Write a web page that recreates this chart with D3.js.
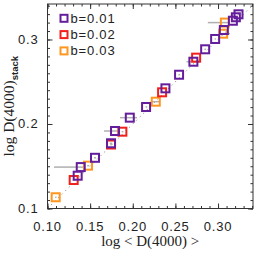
<!DOCTYPE html>
<html><head><meta charset="utf-8">
<script src="https://cdn.jsdelivr.net/npm/d3@7"></script>
<style>body{margin:0;background:#fff}svg{display:block}</style>
</head><body>
<svg id="c" width="258" height="258"></svg>
<script>
// ---- data ----
const seriesNames = ["b=0.01", "b=0.02", "b=0.03"];
const seriesColors = ["#641e9b", "#f0201c", "#ff9620"];
const purpleX = [0.1354,0.1390,0.1557,0.1745,0.1792,0.1965,0.2156,0.2383,0.2543,0.2711,0.2849,0.2966,0.3068,0.3174,0.3209,0.3240];
const purpleY = [0.1388,0.1490,0.1600,0.1772,0.1917,0.2075,0.2201,0.2422,0.2583,0.2737,0.2884,0.3006,0.3112,0.3222,0.3263,0.3298];
const purpleXlo = [0.1340,0.1076,0.1545,0.1730,0.1663,0.1850,0.2150,0.2375,0.2535,0.2630,0.2840,0.2960,0.3060,0.3165,0.3200,0.3230];
const purpleXhi = [0.1370,0.1420,0.1570,0.1760,0.1820,0.2050,0.2170,0.2395,0.2555,0.2790,0.2860,0.2975,0.3080,0.3185,0.3220,0.3250];
const redX = [0.1307,0.1745,0.1878,0.2344,0.2743];
const redY = [0.1337,0.1757,0.1909,0.2375,0.2785];
const redXlo = [0.1295,0.1735,0.1870,0.2335,0.2735];
const redXhi = [0.1320,0.1755,0.1890,0.2355,0.2755];
const orangeX = [0.1096,0.1475,0.2270,0.3060,0.3080];
const orangeY = [0.1133,0.1507,0.2264,0.3069,0.3200];
const orangeXlo = [0.1090,0.1465,0.2210,0.3000,0.2880];
const orangeXhi = [0.1105,0.1490,0.2320,0.3140,0.3120];
const xTicks = [0.10,0.15,0.20,0.25,0.30];
const yTicks = [0.1,0.2,0.3];
const xTickLabels = ["0.10","0.15","0.20","0.25","0.30"];
const yTickLabels = ["0.1","0.2","0.3"];
const xDomain = [0.10, 0.341];
const yDomain = [0.10, 0.342];

// ---- layout ----
const L = 47.5, R = 253, T = 4, B = 208.5;
const svg = d3.select("#c");
const x = d3.scaleLinear().domain(xDomain).range([L, R]);
const y = d3.scaleLinear().domain(yDomain).range([B, T]);
const minorX = d3.range(0.10, 0.3405, 0.01).map(v => +v.toFixed(2));
const minorY = d3.range(0.10, 0.3415, 0.01).map(v => +v.toFixed(2));

// 1:1 dotted line
svg.append("line")
  .attr("x1", x(0.10)).attr("y1", y(0.10))
  .attr("x2", x(0.34)).attr("y2", y(0.34))
  .attr("stroke", "#777").attr("stroke-width", 1).attr("stroke-dasharray", "1,4");

const tickColor = "#333";
function addTicks(axisGen, transform, vals, size) {
  svg.append("g").attr("transform", transform)
    .call(axisGen.tickValues(vals).tickSize(size).tickFormat(""))
    .call(g => { g.select(".domain").remove(); g.selectAll("line").attr("stroke", tickColor); });
}
// minor + major ticks on all sides (inward)
[[minorX, 2.5], [xTicks, 5]].forEach(([v, s]) => {
  addTicks(d3.axisTop(x), `translate(0,${B})`, v, s);
  addTicks(d3.axisBottom(x), `translate(0,${T})`, v, s);
});
[[minorY, 2.5], [yTicks, 5]].forEach(([v, s]) => {
  addTicks(d3.axisLeft(y), `translate(${R},0)`, v, s);
  addTicks(d3.axisRight(y), `translate(${L},0)`, v, s);
});

// frame
svg.append("rect").attr("x", L).attr("y", T).attr("width", R - L).attr("height", B - T)
  .attr("fill", "none").attr("stroke", tickColor).attr("stroke-width", 1);

// tick labels
const sans = "'Liberation Sans', Arial, sans-serif";
const serif = "'Liberation Serif', 'Times New Roman', serif";
svg.append("g").selectAll("text").data(xTicks).join("text")
  .attr("x", d => x(d)).attr("y", 230.5).attr("text-anchor", "middle")
  .attr("font-family", sans).attr("font-size", 13).attr("letter-spacing", 0.8).attr("fill", "#222")
  .text((d, i) => xTickLabels[i]);
svg.append("g").selectAll("text").data(yTicks).join("text")
  .attr("x", 38.5).attr("y", d => y(d) + 4.5).attr("text-anchor", "end")
  .attr("font-family", sans).attr("font-size", 13).attr("letter-spacing", 0.8).attr("fill", "#222")
  .text((d, i) => yTickLabels[i]);

// axis titles
svg.append("text").attr("x", (L + R) / 2).attr("y", 246).attr("text-anchor", "middle")
  .attr("font-family", serif).attr("font-size", 15).attr("fill", "#222")
  .text("log < D(4000) >");
const yt = svg.append("text").attr("transform", `translate(14,${(T + B) / 2}) rotate(-90)`)
  .attr("text-anchor", "middle").attr("font-family", serif).attr("font-size", 15.5).attr("fill", "#222");
yt.append("tspan").text("log D(4000)");
yt.append("tspan").attr("dy", 4).attr("font-size", 9.5).attr("font-family", sans).attr("font-weight", "bold").text("stack");

// data series
const series = [
  {x: orangeX, y: orangeY, lo: orangeXlo, hi: orangeXhi, c: seriesColors[2]},
  {x: redX, y: redY, lo: redXlo, hi: redXhi, c: seriesColors[1]},
  {x: purpleX, y: purpleY, lo: purpleXlo, hi: purpleXhi, c: seriesColors[0]}
];
series.forEach(s => {
  const pts = s.x.map((v, i) => ({x: v, y: s.y[i], lo: s.lo[i], hi: s.hi[i]}));
  svg.append("g").selectAll("line").data(pts).join("line")
    .attr("x1", d => x(d.lo)).attr("x2", d => x(d.hi))
    .attr("y1", d => y(d.y)).attr("y2", d => y(d.y))
    .attr("stroke", "#b0b0b0").attr("stroke-width", 1.5);
});
series.forEach(s => {
  const pts = s.x.map((v, i) => ({x: v, y: s.y[i]}));
  svg.append("g").selectAll("rect").data(pts).join("rect")
    .attr("x", d => x(d.x) - 4).attr("y", d => y(d.y) - 4)
    .attr("width", 8).attr("height", 8)
    .attr("fill", "none").attr("stroke", s.c).attr("stroke-width", 2);
});

// legend
const leg = svg.append("g");
seriesNames.forEach((n, i) => {
  const cy = 18.3 + i * 16.3;
  leg.append("rect").attr("x", 64 - 3.5).attr("y", cy - 3.5).attr("width", 7).attr("height", 7)
    .attr("fill", "none").attr("stroke", seriesColors[i]).attr("stroke-width", 2);
  leg.append("text").attr("x", 70.5).attr("y", cy + 4.5)
    .attr("font-family", sans).attr("font-size", 13).attr("letter-spacing", 0.8).attr("fill", "#222").text(n);
});
</script>
</body></html>
